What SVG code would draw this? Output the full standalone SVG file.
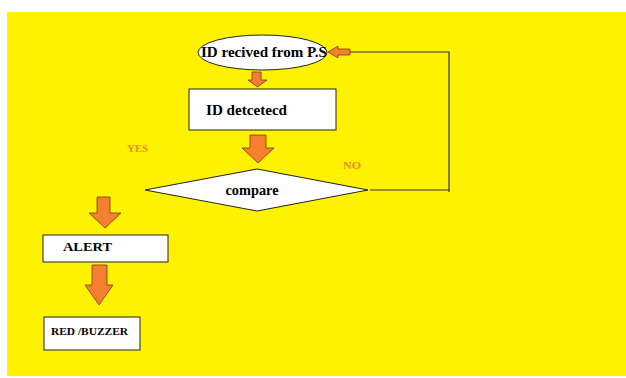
<svg xmlns="http://www.w3.org/2000/svg" width="626" height="378" viewBox="0 0 626 378">
<style>
.box{fill:#fff;stroke:#222;stroke-width:1}
.arr{fill:#f47f30;stroke:#7a3a10;stroke-width:0.8}
.t{font-family:"Liberation Serif",serif;font-weight:bold;fill:#000}
.lbl{font-family:"Liberation Serif",serif;font-weight:bold;fill:#f08a30;font-size:10px}
.ln{fill:none;stroke:#333;stroke-width:1.2}
</style>
<rect x="7" y="12" width="619" height="364" fill="#fff200"/>
<g id="start">
<ellipse class="box" cx="262.5" cy="52.5" rx="64.5" ry="17.5"/>
<text class="t" x="264" y="57" font-size="14" text-anchor="middle" textLength="126" lengthAdjust="spacingAndGlyphs">ID recived from P.S</text>
</g>
<g id="detected">
<rect class="box" x="189" y="89" width="147" height="41"/>
<text class="t" x="206" y="115" font-size="14" textLength="81" lengthAdjust="spacingAndGlyphs">ID detcetecd</text>
</g>
<g id="compare">
<polygon class="box" points="257,169 368,190 257,211 145,190"/>
<text class="t" x="252" y="195" font-size="14" text-anchor="middle" textLength="53" lengthAdjust="spacingAndGlyphs">compare</text>
</g>
<g id="alert">
<rect class="box" x="43" y="235" width="125" height="27"/>
<text class="t" x="63" y="251" font-size="13" textLength="49" lengthAdjust="spacingAndGlyphs">ALERT</text>
</g>
<g id="buzzer">
<rect class="box" x="44" y="317" width="96" height="33"/>
<text class="t" x="51" y="335" font-size="11" textLength="77" lengthAdjust="spacingAndGlyphs">RED /BUZZER</text>
</g>
<g id="connectors">
<polygon class="arr" points="252,72 261,72 261,80 267,80 257.5,87 248,80 252,80"/>
<polygon class="arr" points="250,135 266,135 266,148 274,148 258,163 242,148 250,148"/>
<polygon class="arr" points="97,197 110,197 110,213 121,213 105,228 89,213 97,213"/>
<polygon class="arr" points="92,265 107,265 107,285 113,285 99,305 85,285 92,285"/>
<polygon class="arr" points="328,52 338,46 338,49 350,49 350,55 338,55 338,58"/>
<polyline class="ln" points="350,52 449,52 449,192"/>
<line class="ln" x1="370" y1="190" x2="449" y2="190"/>
<text class="lbl" x="127" y="152" textLength="21" lengthAdjust="spacingAndGlyphs">YES</text>
<text class="lbl" x="343" y="169" textLength="18" lengthAdjust="spacingAndGlyphs">NO</text>
</g>
</svg>
